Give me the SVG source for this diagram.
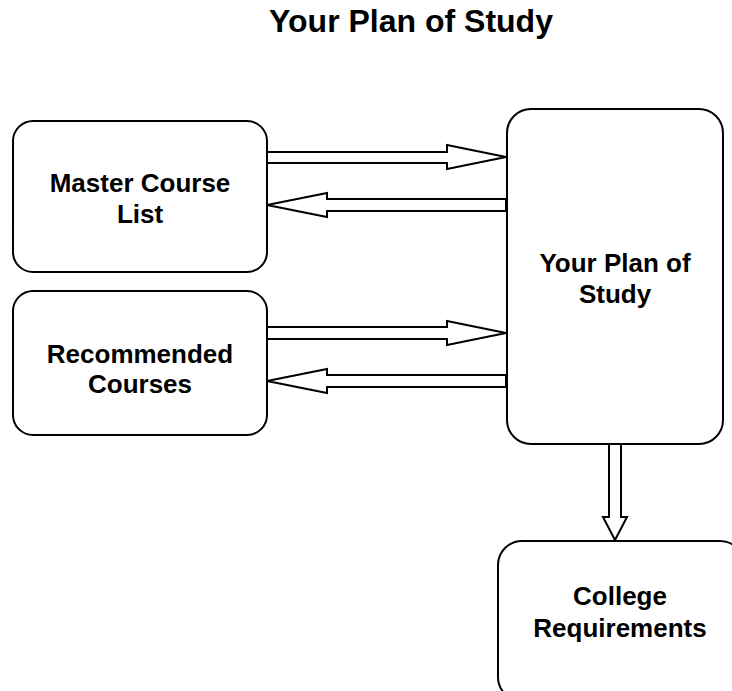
<svg xmlns="http://www.w3.org/2000/svg" width="732" height="691" viewBox="0 0 732 691">
<style>
.box{fill:#fff;stroke:#000;stroke-width:2}
.arr{fill:#fff;stroke:#000;stroke-width:2;stroke-linejoin:miter}
.t{font-family:"Liberation Sans",Arial,sans-serif;font-weight:bold;font-size:26px;text-anchor:middle;fill:#000}
.title{font-family:"Liberation Sans",Arial,sans-serif;font-weight:bold;font-size:32px;text-anchor:middle;fill:#000}
</style>
<rect width="732" height="691" fill="#fff"/>
<text class="title" x="411" y="32">Your Plan of Study</text>
<g id="connectors">
<polygon class="arr" points="267,152 447,152 447,145 506,157 447,169 447,163 267,163"/>
<polygon class="arr" points="506,199 327,199 327,193 267,205 327,217 327,211 506,211"/>
<polygon class="arr" points="267,327 447,327 447,321 506,333 447,345 447,339 267,339"/>
<polygon class="arr" points="506,375 327,375 327,369 267,381 327,393 327,387 506,387"/>
<polygon class="arr" points="609,444 609,517 603,517 615,540 627,517 621,517 621,444"/>
</g>
<g id="master">
<rect class="box" x="13" y="121" width="254" height="151" rx="20" ry="20"/>
<text class="t" x="140" y="192">Master Course</text>
<text class="t" x="140" y="223">List</text>
</g>
<g id="recommended">
<rect class="box" x="13" y="291" width="254" height="144" rx="20" ry="20"/>
<text class="t" x="140" y="363">Recommended</text>
<text class="t" x="140" y="393">Courses</text>
</g>
<g id="plan">
<rect class="box" x="507" y="109" width="216" height="335" rx="24" ry="24"/>
<text class="t" x="615" y="272">Your Plan of</text>
<text class="t" x="615" y="303">Study</text>
</g>
<g id="college">
<rect class="box" x="498" y="541" width="246" height="160" rx="24" ry="24"/>
<text class="t" x="620" y="605">College</text>
<text class="t" x="620" y="637">Requirements</text>
</g>
</svg>
